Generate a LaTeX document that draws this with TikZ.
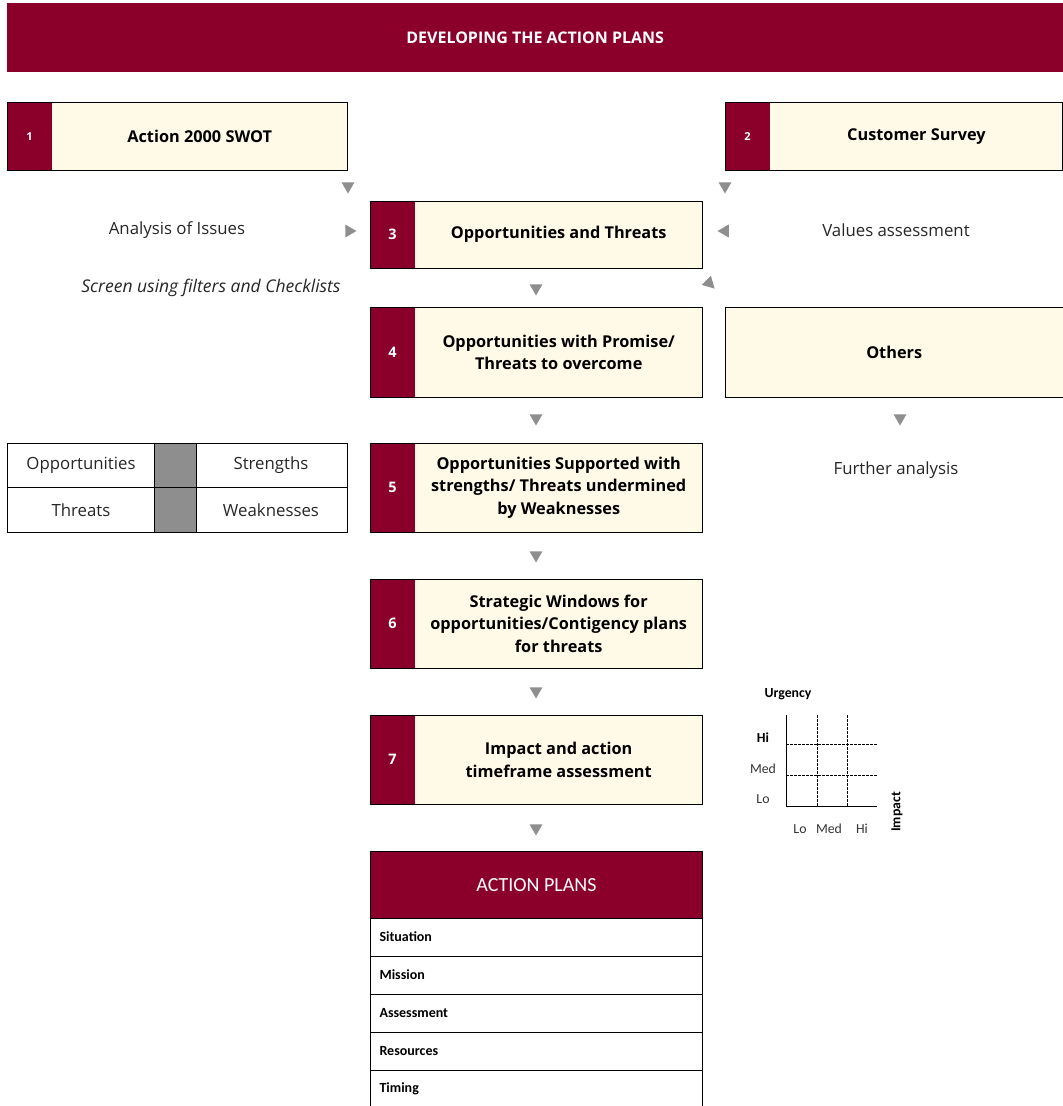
\documentclass[tikz,border=0pt]{standalone}
\usepackage{fontspec}
\setmainfont{Open Sans}
\newfontfamily\calfont{Carlito}
\usetikzlibrary{shapes.geometric}
\definecolor{wine}{HTML}{8A002B}
\definecolor{cream}{HTML}{FFF9E7}
\definecolor{arrgray}{HTML}{8E8E8E}
\tikzset{
  tri/.style={regular polygon, regular polygon sides=3, fill=arrgray, draw=none, inner sep=0pt, minimum size=15pt, shape border uses incircle},
  tridown/.style={tri, shape border rotate=180},
  triright/.style={tri, shape border rotate=-90},
  trileft/.style={tri, shape border rotate=90},
  frame/.style={draw=black, line width=0.9pt},
  boxtext/.style={font=\bfseries\fontsize{16.3}{22.5}\selectfont, align=center, text=black},
  numtext/.style={font=\bfseries\fontsize{14.5}{16}\selectfont, text=white},
  plain/.style={font=\fontsize{16.8}{19}\selectfont, text=black!85},
  gridlab/.style={font=\calfont\fontsize{13.8}{16}\selectfont, text=black!80},
  gridbold/.style={font=\calfont\bfseries\fontsize{13.8}{16}\selectfont, text=black},
  rowlab/.style={font=\calfont\bfseries\fontsize{14}{16}\selectfont, anchor=west, text=black},
}
% name, x, y, width, height, number, text
\newcommand\numbox[7]{%
  \node[fill=cream, draw=none, minimum width=#4pt, minimum height=#5pt, anchor=north west, inner sep=0pt] (#1) at (#2,#3) {};
  \fill[wine] (#1.north west) rectangle ([xshift=45pt]#1.south west);
  \draw[frame] (#1.north west) rectangle (#1.south east);
  \node[numtext] (#1num) at ([xshift=22.5pt]#1.west) {#6};
  \node[boxtext] (#1txt) at ([xshift=22.5pt]#1.center) {#7};
}
\begin{document}
\begin{tikzpicture}[x=1pt,y=-1pt]
\useasboundingbox (0,0) rectangle (1063,1106);
% banner
\node[fill=wine, minimum width=1056pt, minimum height=69pt, anchor=north west, inner sep=0pt,
  font=\fontsize{16}{18}\selectfont\bfseries, text=white] (banner) at (7,3) {DEVELOPING THE ACTION PLANS};

\numbox{b1}{7}{102}{340}{68}{\fontsize{11}{12}\selectfont 1}{Action 2000 SWOT}
\numbox{b2}{725}{102}{337.5}{68}{\fontsize{11}{12}\selectfont 2}{Customer Survey}
\numbox{b3}{370}{201}{332}{67}{3}{Opportunities and Threats}
\numbox{b4}{370}{307}{332}{90}{4}{Opportunities with Promise/\\Threats to overcome}
\numbox{b5}{370}{443}{332}{89}{5}{Opportunities Supported with\\strengths/ Threats undermined\\by Weaknesses}
\numbox{b6}{370}{579}{332}{89}{6}{Strategic Windows for\\opportunities/Contigency plans\\for threats}
\numbox{b7}{370}{715}{332}{89}{7}{Impact and action\\timeframe assessment}

% Others
\node[fill=cream, frame, minimum width=337.5pt, minimum height=90pt, anchor=north west, inner sep=0pt, boxtext] (others) at (725,307) {Others};

% side texts
\node[plain] (analysis) at (177,230) {Analysis of Issues};
\node[plain] (values) at (896,230) {Values assessment};
\node[plain, font=\itshape\fontsize{17.5}{19}\selectfont] (screen) at (211,288) {Screen using filters and Checklists};
\node[plain] (further) at (896,470) {Further analysis};

% arrows
\node[tridown] (a1) at (348,186) {};
\node[tridown] (a2) at (725,186) {};
\node[triright] (a3) at (349,231) {};
\node[trileft] (a4) at (725,231) {};
\node[tridown] (a5) at (536,288) {};
\coordinate (a6) at (710,284);
\fill[arrgray] ([shift={(4.6,4.6)}]a6) -- ([shift={(0.9,-8.3)}]a6) -- ([shift={(-8.3,0.9)}]a6) -- cycle;
\node[tridown] (a7) at (536,418) {};
\node[tridown] (a8) at (900,418) {};
\node[tridown] (a9) at (536,555) {};
\node[tridown] (a10) at (536,691) {};
\node[tridown] (a11) at (536,828) {};

% SWOT table
\fill[arrgray] (154,443) rectangle (196,532);
\draw[line width=0.8pt] (7,443) rectangle (347,532);
\draw[line width=0.8pt] (7,487.5) -- (347,487.5);
\draw[line width=0.8pt] (154,443) -- (154,532) (196,443) -- (196,532);
\node[plain] (opp) at (81,465) {Opportunities};
\node[plain] (str) at (271,465) {Strengths};
\node[plain] (thr) at (81,510) {Threats};
\node[plain] (weak) at (271,510) {Weaknesses};

% urgency/impact grid
\node[gridbold] (urg) at (788,694) {Urgency};
\draw[line width=0.6pt, dash pattern=on 2.5pt off 1.5pt] (786,744) -- (877,744) (786,775) -- (877,775) (817,715) -- (817,806) (847,715) -- (847,806);
\draw[line width=0.8pt] (786,715) -- (786,806) -- (877,806);
\node[gridbold] (uhi) at (763,738) {Hi};
\node[gridlab] (umed) at (763,769) {Med};
\node[gridlab] (ulo) at (763,799) {Lo};
\node[gridlab] (ilo) at (800,829) {Lo};
\node[gridlab] (imed) at (829,829) {Med};
\node[gridlab] (ihi) at (862,829) {Hi};
\node[gridbold, rotate=90] (imp) at (897,812) {Impact};

% action plans
\node[fill=wine, frame, minimum width=332pt, minimum height=67pt, anchor=north west, inner sep=0pt,
  font=\calfont\fontsize{20}{22}\selectfont, text=white] (ap) at (370,851) {ACTION PLANS};
\draw[frame] (370,918) rectangle (702,956);
\draw[frame] (370,956) rectangle (702,994);
\draw[frame] (370,994) rectangle (702,1032);
\draw[frame] (370,1032) rectangle (702,1070);
\draw[frame] (370,1106.5) -- (370,1070) -- (702,1070) -- (702,1106.5);
\node[rowlab] (r1) at (376,937) {Situation};
\node[rowlab] (r2) at (376,975) {Mission};
\node[rowlab] (r3) at (376,1013) {Assessment};
\node[rowlab] (r4) at (376,1051) {Resources};
\node[rowlab] (r5) at (376,1089) {Timing};
\end{tikzpicture}
\end{document}
